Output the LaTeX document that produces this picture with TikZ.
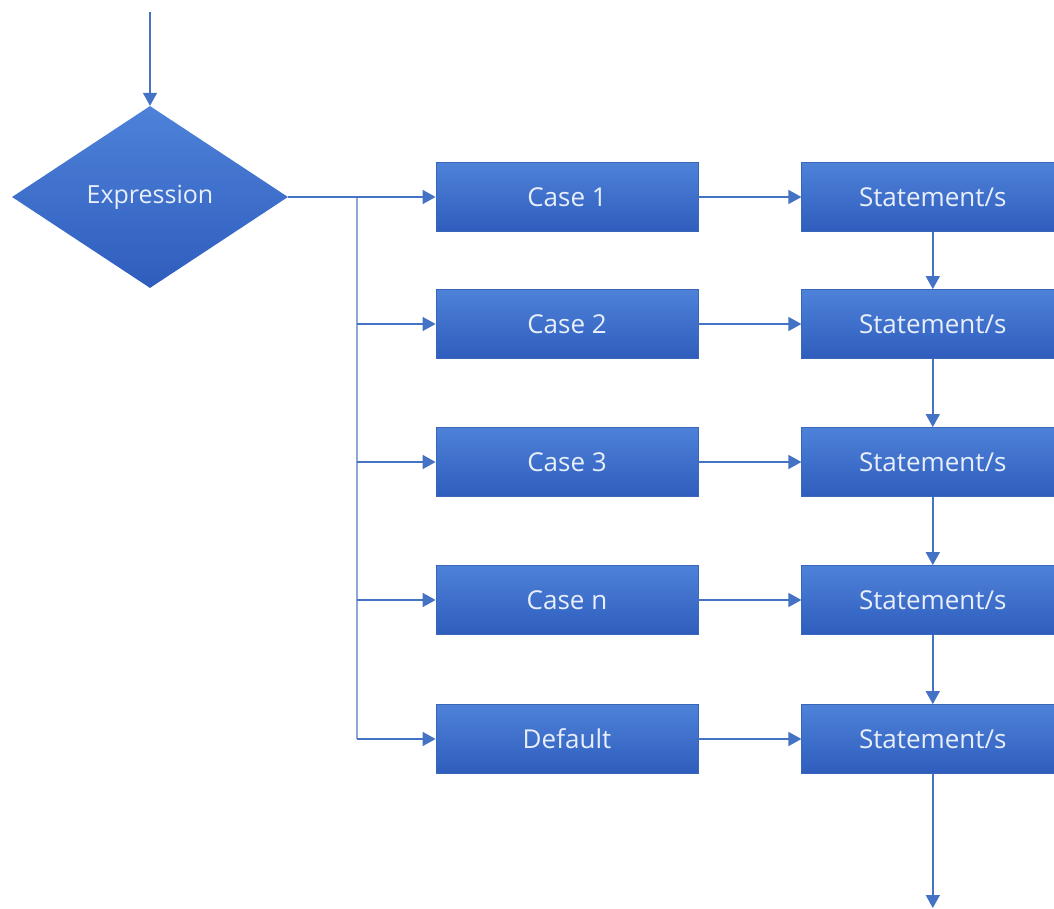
\documentclass[tikz,border=0pt]{standalone}
\usepackage{fontspec}
\setmainfont{Open Sans}
\usetikzlibrary{arrows.meta,positioning,shapes.geometric}

\definecolor{boxtop}{HTML}{4E82D9}
\definecolor{boxbot}{HTML}{2F5DBD}
\definecolor{boxedge}{HTML}{3A66B8}
\definecolor{lineblue}{HTML}{4472C4}
\definecolor{trunkblue}{HTML}{8FA7D4}
\definecolor{textlight}{HTML}{E8EFFA}

\begin{document}
\begin{tikzpicture}[x=1pt,y=1pt,
  casebox/.style={rectangle, draw=boxedge, line width=0.8pt, top color=boxtop, bottom color=boxbot,
    minimum width=262pt, minimum height=69pt, inner sep=0pt,
    text=textlight, font=\fontsize{26}{30}\selectfont},
  stmtbox/.style={casebox},
  decision/.style={diamond, draw=none, top color=boxtop, bottom color=boxbot,
    minimum width=276pt, minimum height=182pt, inner sep=0pt,
    text=textlight, font=\fontsize{25}{29}\selectfont},
  arr/.style={-{Triangle[length=13pt,width=14pt]}, line width=1.6pt, draw=lineblue, fill=lineblue},
  trunk/.style={line width=2.2pt, draw=trunkblue},
  node distance=103pt,
]
\useasboundingbox (0,0) rectangle (1054,-909);
\clip (0,0) rectangle (1054,-909);

% ===== Switch head =====
\coordinate (entry) at (150,-12);
\node[decision] (expr) at (150,-197) {Expression};
\coordinate (split) at (357,-197);

% ===== Cases =====
\node[casebox] (c1) at (567,-197) {Case 1};
\node[casebox] (c2) at (567,-324) {Case 2};
\node[casebox] (c3) at (567,-462) {Case 3};
\node[casebox] (cn) at (567,-600) {Case n};
\node[casebox] (cd) at (567,-739) {Default};

% ===== Statements =====
\node[stmtbox, right=of c1] (s1) {Statement/s};
\node[stmtbox, right=of c2] (s2) {Statement/s};
\node[stmtbox, right=of c3] (s3) {Statement/s};
\node[stmtbox, right=of cn] (sn) {Statement/s};
\node[stmtbox, right=of cd] (sd) {Statement/s};
\coordinate (exit) at (s1.south |- 0,-908);

% ===== Connectors =====
\draw[arr] (entry) -- (expr.north);
\draw[trunk] (split) |- (split |- cd.west);
\draw[arr] (expr.east) -- (c1.west);
\foreach \c in {c2,c3,cn,cd}
  \draw[arr] (split |- \c.west) -- (\c.west);
\foreach \i in {1,2,3,n,d}
  \draw[arr] (c\i) -- (s\i);
\draw[arr] (s1) -- (s2);
\draw[arr] (s2) -- (s3);
\draw[arr] (s3) -- (sn);
\draw[arr] (sn) -- (sd);
\draw[arr] (sd) -- (exit);

\end{tikzpicture}
\end{document}
